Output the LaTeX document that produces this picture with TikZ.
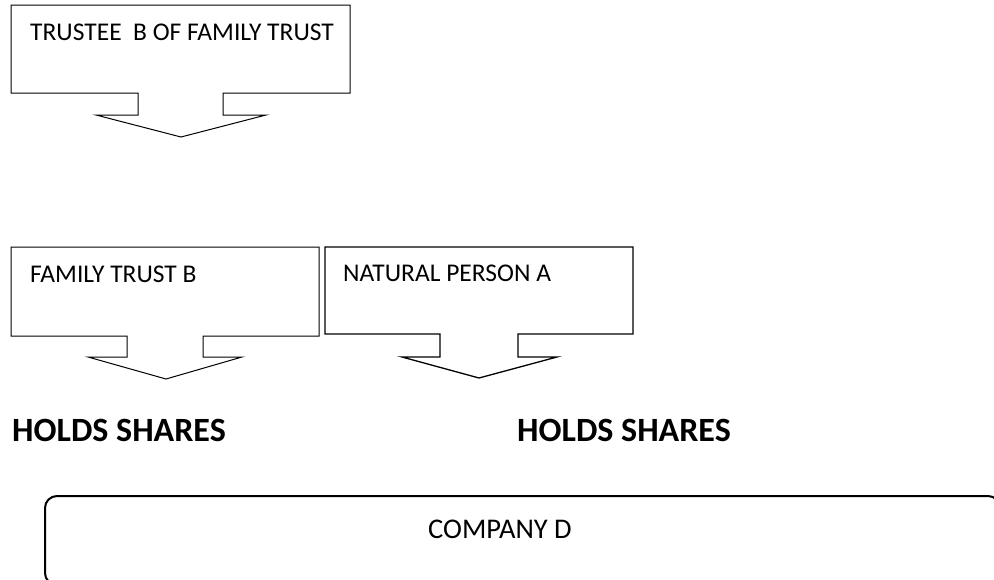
\documentclass[tikz,border=0pt]{standalone}
\usepackage{fontspec}
\setmainfont{Carlito}
\begin{document}
\begin{tikzpicture}[x=1pt,y=-1pt,
  callout/.style={draw=black, line width=1pt, line join=miter},
  lbl/.style={anchor=base west, inner sep=0pt, font=\fontsize{25.5}{30}\selectfont},
  holds/.style={anchor=base west, inner sep=0pt, font=\fontsize{34}{40}\selectfont\bfseries},
  companybox/.style={draw=black, line width=2pt, rounded corners=12pt}]
\useasboundingbox (0,0) rectangle (994,579);
\clip (0,0) rectangle (994,579);
% callout shapes
\draw[callout] (11,5) -- (350,5) -- (350,93) -- (223,93) -- (223,115) -- (266,115) -- (181,137) -- (96,115) -- (138,115) -- (138,93) -- (11,93) -- cycle;
\draw[callout] (11,247) -- (319,247) -- (319,336) -- (203,336) -- (203,357) -- (242,357) -- (166,379) -- (88,357) -- (127,357) -- (127,336) -- (11,336) -- cycle;
\draw[callout, line width=1.3pt] (325,247) -- (633,247) -- (633,334) -- (518,334) -- (518,357) -- (557,357) -- (479,378) -- (402,357) -- (440,357) -- (440,334) -- (325,334) -- cycle;
% texts
\node[lbl] (trustee) at (30,40) {TRUSTEE\ \ B OF FAMILY TRUST};
\node[lbl] (ftb) at (30,282) {FAMILY TRUST B};
\node[lbl] (npa) at (343,281) {NATURAL PERSON A};
\node[holds] (hs1) at (12,441) {HOLDS SHARES};
\node[holds] (hs2) at (517,441) {HOLDS SHARES};
% company
\draw[companybox] (45,496) rectangle (1000,585);
\node[lbl, font=\fontsize{28.5}{34}\selectfont] (compd) at (428,538) {COMPANY D};
\end{tikzpicture}
\end{document}
